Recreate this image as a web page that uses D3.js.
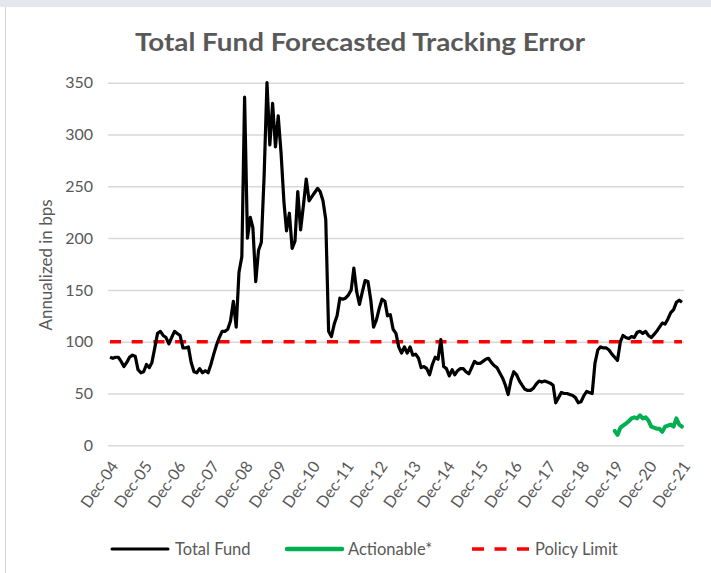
<!DOCTYPE html>
<html>
<head>
<meta charset="utf-8">
<script src="https://cdnjs.cloudflare.com/ajax/libs/d3/7.8.5/d3.min.js"></script>
<style>
  html, body { margin: 0; padding: 0; background: #ffffff; }
  svg { display: block; }
  text { font-family: Lato, "Open Sans", sans-serif; fill: #595959; }
</style>
</head>
<body>
<svg id="chart" width="711" height="573"></svg>
<script>
// ---------------- DATA ----------------
const chartTitle = "Total Fund Forecasted Tracking Error";
const yAxisTitle = "Annualized in bps";
const startMonth = new Date(2004, 11, 1); // Dec-04, monthly observations
const yTickValues = [0, 50, 100, 150, 200, 250, 300, 350];
const xTickLabels = ["Dec-04","Dec-05","Dec-06","Dec-07","Dec-08","Dec-09","Dec-10","Dec-11","Dec-12",
                     "Dec-13","Dec-14","Dec-15","Dec-16","Dec-17","Dec-18","Dec-19","Dec-20","Dec-21"];
const seriesNames = ["Total Fund", "Actionable*", "Policy Limit"];

// Total Fund, monthly Dec-04 .. Dec-21
const totalFund = [
  85,84,85,85,81,76,80,85,87,86,73,70,
  71,78,75,80,94,108,110,106,104,98,104,110,
  108,106,94,94,95,80,71,70,74,70,72,70,
  78,88,97,104,110,110,112,120,139,114,167,182,
  336,200,220,210,158,188,196,260,350,290,330,288,
  318,282,235,207,224,190,197,245,208,232,257,236,
  240,244,248,245,236,218,110,105,117,125,142,141,
  142,145,150,171,148,136,148,159,158,140,114,121,
  132,141,139,125,126,112,108,95,89,95,89,95,
  87,88,84,75,76,74,68,78,85,83,102,76,
  74,67,73,68,72,74,74,71,69,75,81,79,
  79,81,83,84,80,77,75,70,65,58,49,63,
  71,68,62,58,54,53,53,55,59,62,61,62,
  61,60,58,41,46,51,50,50,49,48,46,41,
  42,48,52,51,50,79,92,95,94,94,92,88,
  85,82,100,106,104,103,105,104,109,110,108,110,
  106,104,107,110,114,118,117,122,128,131,138,140,138
];
// Actionable*, monthly Dec-19 .. Dec-21
const actionableStartIndex = 180;
const actionable = [14,10,17,19,21,23,26,27,26,29,26,27,24,18,17,16,16,13,18,19,20,18,26,20,18];
const policyLimit = 100;

// ---------------- CHART ----------------
const svg = d3.select("#chart");
const W = 711, H = 573;

// frame (screenshot border look)
svg.append("rect").attr("x", 0).attr("y", 0).attr("width", W).attr("height", H).attr("fill", "#ffffff");
svg.append("rect").attr("x", 0).attr("y", 0).attr("width", W).attr("height", 7).attr("fill", "#e4e7ee");
svg.append("line").attr("x1", 5.5).attr("x2", 5.5).attr("y1", 7).attr("y2", H).attr("stroke", "#d6d6d6").attr("stroke-width", 1);

const dates = totalFund.map((d, i) => d3.timeMonth.offset(startMonth, i));
const x = d3.scaleTime().domain([dates[0], dates[dates.length - 1]]).range([110, 682]);
const y = d3.scaleLinear().domain([0, 350]).range([445.3, 82.7]);

// gridlines
svg.append("g")
  .attr("transform", "translate(108,0)")
  .call(d3.axisLeft(y).tickValues(yTickValues).tickSize(-576).tickFormat(""))
  .call(g => g.select(".domain").remove())
  .call(g => g.selectAll("line").attr("stroke", "#d9d9d9").attr("stroke-width", 1.5));

// y labels
svg.append("g")
  .attr("transform", "translate(93,0)")
  .call(d3.axisLeft(y).tickValues(yTickValues).tickSize(0).tickPadding(0))
  .call(g => g.select(".domain").remove())
  .call(g => g.selectAll("text").attr("font-size", 16).attr("fill", "#595959")
        .attr("font-family", "Lato, 'Open Sans', sans-serif"));

// x labels
const decTicks = xTickLabels.map((_, k) => d3.timeMonth.offset(startMonth, 12 * k));
const xAxis = svg.append("g")
  .attr("transform", "translate(0,450)")
  .call(d3.axisBottom(x).tickValues(decTicks).tickSize(0).tickFormat((d, i) => xTickLabels[i]));
xAxis.select(".domain").remove();
xAxis.selectAll("text")
  .attr("font-size", 16).attr("fill", "#595959")
  .attr("font-family", "Lato, 'Open Sans', sans-serif")
  .attr("text-anchor", "end")
  .attr("y", 0)
  .attr("dy", "0.35em")
  .attr("transform", "translate(4,13) rotate(-55)");

// policy limit
svg.append("line")
  .attr("x1", x(dates[0])).attr("x2", x(dates[dates.length - 1]))
  .attr("y1", y(policyLimit)).attr("y2", y(policyLimit))
  .attr("stroke", "#ff0000").attr("stroke-width", 3.5).attr("stroke-dasharray", "11,10.7");

// total fund line
const line = d3.line().x(d => x(d.date)).y(d => y(d.v)).curve(d3.curveLinear);
svg.append("path")
  .datum(totalFund.map((v, i) => ({ date: dates[i], v })))
  .attr("d", line).attr("fill", "none").attr("stroke", "#000000")
  .attr("stroke-width", 3.2).attr("stroke-linejoin", "round");

// actionable line
svg.append("path")
  .datum(actionable.map((v, i) => ({ date: dates[actionableStartIndex + i], v })))
  .attr("d", line).attr("fill", "none").attr("stroke", "#00b050")
  .attr("stroke-width", 4).attr("stroke-linejoin", "round").attr("stroke-linecap", "round");

// title
svg.append("text")
  .attr("x", 360).attr("y", 51)
  .attr("text-anchor", "middle")
  .attr("font-size", 25).attr("font-weight", "bold")
  .attr("fill", "#595959")
  .attr("textLength", 450).attr("lengthAdjust", "spacingAndGlyphs")
  .text(chartTitle);

// y axis title
svg.append("text")
  .attr("transform", "translate(52,265) rotate(-90)")
  .attr("text-anchor", "middle")
  .attr("font-size", 17).attr("fill", "#595959")
  .text(yAxisTitle);

// legend
const legend = [
  { name: seriesNames[0], color: "#000000", width: 3, dash: null, x1: 112, x2: 168, tx: 175 },
  { name: seriesNames[1], color: "#00b050", width: 4.5, dash: null, x1: 287, x2: 342, tx: 348 },
  { name: seriesNames[2], color: "#ff0000", width: 3.5, dash: "12,10.5", x1: 472, x2: 529, tx: 535 }
];
const lg = svg.append("g");
legend.forEach(l => {
  lg.append("line").attr("x1", l.x1).attr("x2", l.x2).attr("y1", 549).attr("y2", 549)
    .attr("stroke", l.color).attr("stroke-width", l.width)
    .attr("stroke-linecap", l.dash ? "butt" : "round")
    .attr("stroke-dasharray", l.dash);
  lg.append("text").attr("x", l.tx).attr("y", 549).attr("dy", "0.35em")
    .attr("font-size", 16.5).attr("fill", "#595959").text(l.name);
});
</script>
</body>
</html>
